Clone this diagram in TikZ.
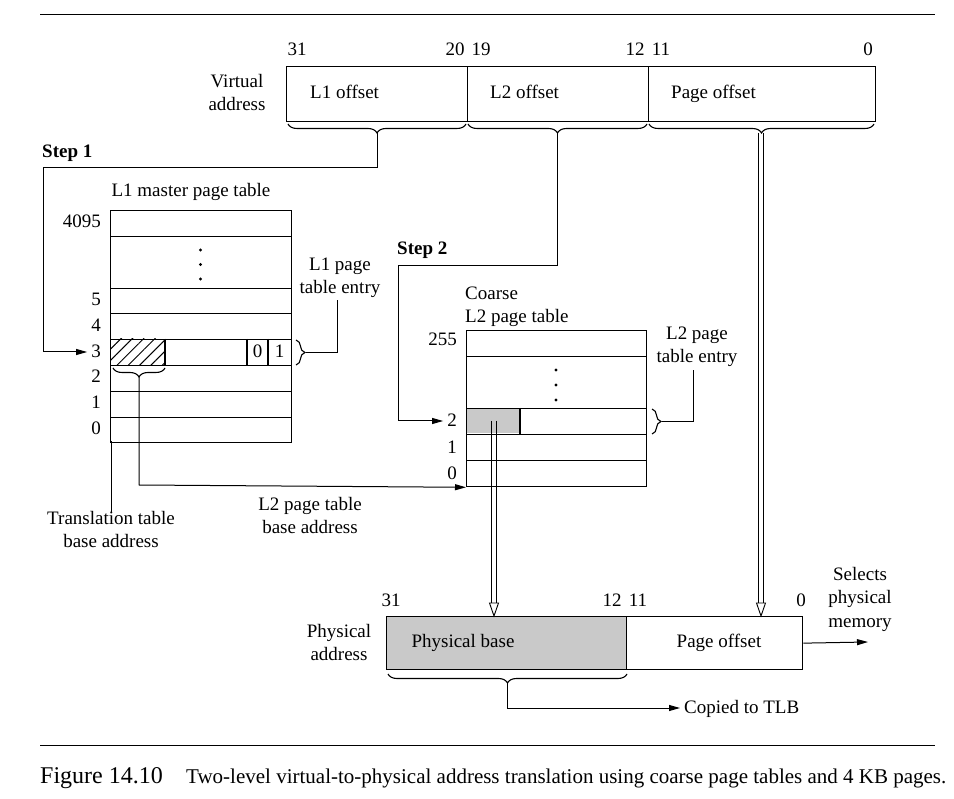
\documentclass[tikz,border=0pt]{standalone}
\usepackage{fontspec}
\setmainfont{Liberation Serif}
\usetikzlibrary{arrows.meta,decorations.pathreplacing,patterns.meta}
\tikzset{
  cell/.style={draw, line width=1.3pt, inner sep=0pt, anchor=north west},
  conn/.style={line width=1pt},
  arr/.style={conn, -{Triangle[length=11pt,width=6pt]}},
  dblline/.style={line width=1pt},
  dblhead/.style={line width=0.9pt, fill=white},
  brc/.style={decorate, decoration={brace, amplitude=9pt}, line width=1.1pt},
  lbl/.style={inner sep=0pt, text height=1.18em, text depth=0pt},
  mlbl/.style={inner sep=0pt, align=center},
}
\begin{document}
\begin{tikzpicture}[x=1pt,y=-1pt, font=\fontsize{19}{23}\selectfont]
\useasboundingbox (0,0) rectangle (954,799);
% rules
\draw[line width=0.8pt] (40,14) -- (935,14);
\draw[line width=0.8pt] (40,745) -- (935,745);
% virtual address
\node[cell, minimum width=181pt, minimum height=55pt] (va1) at (286,66) {};
\node[cell, minimum width=181pt, minimum height=55pt] (va2) at (467,66) {};
\node[cell, minimum width=227pt, minimum height=55pt] (va3) at (648,66) {};
\node[lbl, anchor=west] (t1) at (310,93) {L1 offset};
\node[lbl, anchor=west] (t2) at (490,93) {L2 offset};
\node[lbl, anchor=west] (t3) at (671,93) {Page offset};
\node[mlbl] (va) at (237,93) {Virtual\\address};
\node[lbl] (b31) at (297,50) {31};
\node[lbl] (b20) at (455,50) {20};
\node[lbl] (b19) at (481,50) {19};
\node[lbl] (b12) at (635,50) {12};
\node[lbl] (b11) at (661,50) {11};
\node[lbl] (b0) at (868,50) {0};
\draw[brc] (288,124) -- (466,124) [decoration={mirror}];
\draw[brc] (468,124) -- (647,124) [decoration={mirror}];
\draw[brc] (649,124) -- (874,124) [decoration={mirror}];
\coordinate (vb1) at (377,133);
\coordinate (vb2) at (557,133);
\coordinate (vb3) at (761,133);
% Step labels
\node[lbl, anchor=west, font=\fontsize{19}{23}\selectfont\bfseries] (s1) at (42,152) {Step 1};
\node[lbl, anchor=west, font=\fontsize{19}{23}\selectfont\bfseries] (s2) at (397,249) {Step 2};
% L1 table
\node[lbl] (l1title) at (191,191) {L1 master page table};
\node[cell, minimum width=181pt, minimum height=26pt] (l1a) at (110,210) {};
\node[cell, minimum width=181pt, minimum height=52pt] (l1d) at (110,236) {};
\node[cell, minimum width=181pt, minimum height=25pt] (l15) at (110,288) {};
\node[cell, minimum width=181pt, minimum height=26pt] (l14) at (110,313) {};
\node[cell, minimum width=181pt, minimum height=26pt] (l13) at (110,339) {};
\node[cell, minimum width=181pt, minimum height=26pt] (l12) at (110,365) {};
\node[cell, minimum width=181pt, minimum height=26pt] (l11) at (110,391) {};
\node[cell, minimum width=181pt, minimum height=25pt] (l10) at (110,417) {};
\fill[pattern={Lines[angle=45,distance=8pt,line width=1pt]}] (110,339) rectangle (165,365);
\draw[line width=1.3pt] (165,339) -- (165,365) (247,339) -- (247,365) (268,339) -- (268,365);
\node[lbl] at (257.5,352) {0};
\node[lbl] at (279.5,352) {1};
\foreach \yy in {250,264.5,279} \fill (200.5,\yy) circle (1.6pt);
\node[lbl, anchor=east] (n4095) at (101,222) {4095};
\node[lbl, anchor=east] (n5) at (101,300) {5};
\node[lbl, anchor=east] (n4) at (101,326) {4};
\node[lbl, anchor=east] (n3) at (101,352) {3};
\node[lbl, anchor=east] (n2) at (101,377) {2};
\node[lbl, anchor=east] (n1) at (101,403) {1};
\node[lbl, anchor=east] (n0) at (101,429) {0};
% step 1 connector
\draw[arr] (vb1) -- (377,168) -- (43,168) -- (43,352) -- ([xshift=-4pt]n3.west);
% L1 entry brace
\draw[brc] (296,340) -- (296,365);
\node[mlbl] (l1e) at (340,278) {L1 page\\table entry};
\draw[conn] (306,352.5) -- (337,352.5) -- (337,300);
% brace under hatched
\draw[brc] (113,368) -- (165,368) [decoration={mirror}];
% L2 table
\node[mlbl, anchor=west, align=left] (l2title) at (465,307) {Coarse\\L2 page table};
\node[cell, minimum width=180pt, minimum height=26pt] (l2a) at (466,330) {};
\node[cell, minimum width=180pt, minimum height=52pt] (l2d) at (466,356) {};
\node[cell, minimum width=180pt, minimum height=26pt] (l22) at (466,408) {};
\node[cell, minimum width=180pt, minimum height=26pt] (l21) at (466,434) {};
\node[cell, minimum width=180pt, minimum height=26pt] (l20) at (466,460) {};
\fill[gray!42] (466.6,408.6) rectangle (520,433.4);
\draw[line width=1.3pt] (520,408) -- (520,434);
\foreach \yy in {370,385,400} \fill (556,\yy) circle (1.6pt);
\node[lbl, anchor=east] (m255) at (457,340) {255};
\node[lbl, anchor=east] (m2) at (457,421) {2};
\node[lbl, anchor=east] (m1) at (457,448) {1};
\node[lbl, anchor=east] (m0) at (457,474) {0};
% step 2 connector
\draw[arr] (vb2) -- (557,266) -- (398,266) -- (398,421) -- ([xshift=-4pt]m2.west);
% L2 entry brace
\draw[brc] (652,409) -- (652,434);
\node[mlbl] (l2e) at (697,347) {L2 page\\table entry};
\draw[conn] (662,421.5) -- (693,421.5) -- (693,370);
% L2 base address connector
\draw[arr] (139,377) -- (139,485) -- (l20.south west);
\node[mlbl] (l2b) at (310,516) {L2 page table\\base address};
% translation table base
\node[mlbl] (ttb) at (111,530) {Translation table\\base address};
\draw[conn] (111,441) -- (ttb.north -| 111,441);
% physical address
\node[cell, minimum width=240pt, minimum height=53pt, fill=gray!42] (pa1) at (386,616) {};
\node[cell, minimum width=176pt, minimum height=53pt] (pa2) at (626,616) {};
\node[lbl] (pbase) at (463,642) {Physical base};
\node[lbl] (poff) at (719,642) {Page offset};
\node[mlbl] (pa) at (339,643) {Physical\\address};
\node[lbl] (p31) at (391,601) {31};
\node[lbl] (p12) at (612,601) {12};
\node[lbl] (p11) at (638,601) {11};
\node[lbl] (p0) at (801,601) {0};
% double arrows
\coordinate (g) at (494,421);
\draw[dblline] ([xshift=-2.2pt]g) -- (491.8,604) ([xshift=2.2pt]g) -- (496.2,604);
\draw[dblhead] (489.5,603) -- (498.5,603) -- (494,616) -- cycle;
\draw[dblline] ([xshift=-2.2pt]vb3) -- (758.8,604) ([xshift=2.2pt]vb3) -- (763.2,604);
\draw[dblhead] (756.5,603) -- (765.5,603) -- (761,616) -- cycle;
% selects physical memory
\node[mlbl, font=\fontsize{19}{23.5}\selectfont] (spm) at (860,599) {Selects\\physical\\memory};
\draw[arr] (pa2.east) -- (868,642);
% copied to TLB
\draw[brc] (388,674) -- (627,674) [decoration={mirror}];
\node[lbl, anchor=west] (tlb) at (684,708) {Copied to TLB};
\draw[arr] (507.5,683) -- (507.5,708) -- ([xshift=-4pt]tlb.west);
% caption
\node[lbl, anchor=west, font=\fontsize{24}{28}\selectfont] (fig) at (40,778) {Figure 14.10};
\node[lbl, anchor=west, font=\fontsize{21}{24}\selectfont] (cap) at (186,778) {Two-level virtual-to-physical address translation using coarse page tables and 4 KB pages.};
\end{tikzpicture}
\end{document}
